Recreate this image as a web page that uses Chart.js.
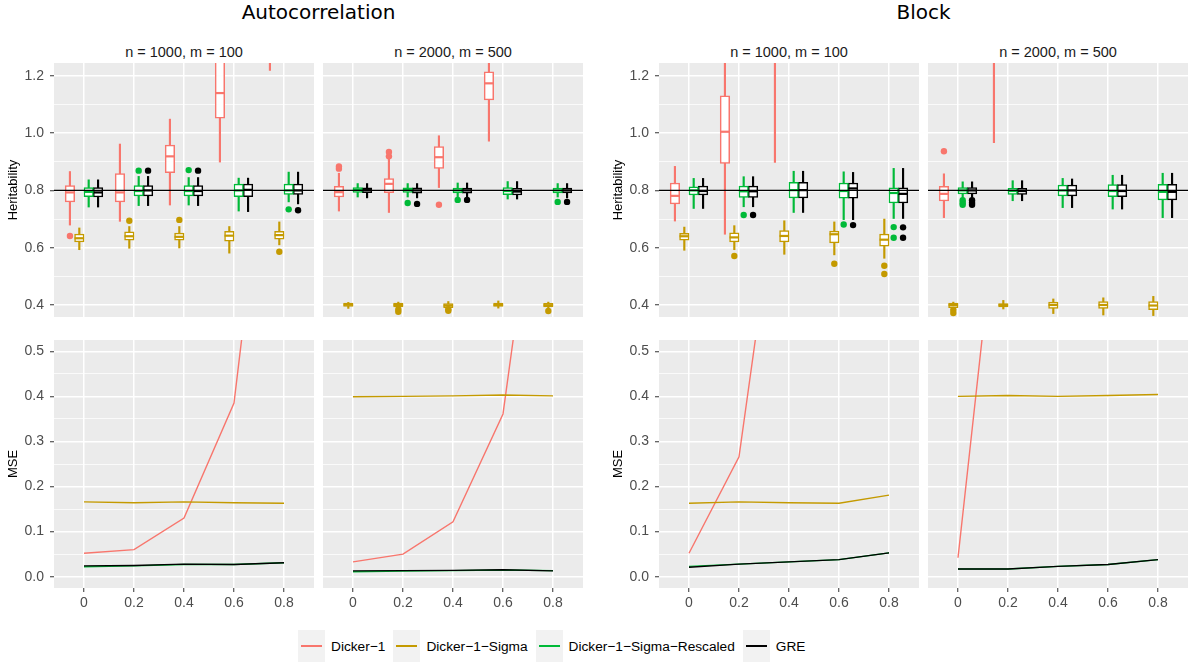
<!DOCTYPE html>
<html>
<head>
<meta charset="utf-8">
<script src="https://cdn.jsdelivr.net/npm/chart.js@4.4.1/dist/chart.umd.min.js"></script>
<style>
    body { margin: 0; width: 1188px; height: 664px; background: #fff; position: relative; overflow: hidden; font-family: "Liberation Sans", Arial, sans-serif; }
    canvas { position: absolute; }
    .main-title { position: absolute; top: 0; height: 24px; line-height: 24px; text-align: center; font-family: "DejaVu Sans", sans-serif; font-size: 20px; color: #000; }
    .strip { position: absolute; top: 44px; height: 16px; line-height: 16px; text-align: center; font-size: 14.5px; color: #1a1a1a; }
    #legend { position: absolute; left: 298px; top: 630px; height: 32px; display: flex; align-items: center; font-size: 13.7px; color: #000; }
    .key { width: 27px; height: 32px; background: #f2f2f2; position: relative; }
    .key span { position: absolute; left: 3px; width: 21px; top: 15px; height: 1.7px; }
    .lab { margin-left: 6px; margin-right: 8px; white-space: nowrap; }
</style>
</head>
<body>
<div class="main-title" style="left:54px;width:529px">Autocorrelation</div>
<div class="main-title" style="left:659px;width:529px">Block</div>
<div class="strip" style="left:54px;width:260px">n = 1000, m = 100</div>
<div class="strip" style="left:323px;width:260px">n = 2000, m = 500</div>
<div class="strip" style="left:659px;width:260px">n = 1000, m = 100</div>
<div class="strip" style="left:928px;width:260px">n = 2000, m = 500</div>

<canvas id="autoSmallTop" width="314" height="254" style="left:0;top:63px"></canvas>
<canvas id="autoLargeTop" width="260" height="254" style="left:323px;top:63px"></canvas>
<canvas id="blockSmallTop" width="314" height="254" style="left:605px;top:63px"></canvas>
<canvas id="blockLargeTop" width="260" height="254" style="left:928px;top:63px"></canvas>
<canvas id="autoSmallMse" width="314" height="274" style="left:0;top:340px"></canvas>
<canvas id="autoLargeMse" width="260" height="274" style="left:323px;top:340px"></canvas>
<canvas id="blockSmallMse" width="314" height="274" style="left:605px;top:340px"></canvas>
<canvas id="blockLargeMse" width="260" height="274" style="left:928px;top:340px"></canvas>

<div id="legend"></div>

<script>
let rhoValues = [0, 0.2, 0.4, 0.6, 0.8];
let methodNames = ["Dicker−1", "Dicker−1−Sigma", "Dicker−1−Sigma−Rescaled", "GRE"];
let methodColors = ["#F8766D", "#C49A00", "#00BA38", "#000000"];
let trueHeritability = 0.8;

let heritTicks = [0.4, 0.5, 0.6, 0.7, 0.8, 0.9, 1.0, 1.1, 1.2];
let mseTicks = [0, 0.05, 0.1, 0.15, 0.2, 0.25, 0.3, 0.35, 0.4, 0.45, 0.5];
let rhoTicks = [0, 0.2, 0.4, 0.6, 0.8];

// boxplot rows: [lower whisker, q1, median, q3, upper whisker], one row per rho
let boxAutoSmall = [
    [[0.679, 0.760, 0.793, 0.817, 0.866], [0.692, 0.760, 0.793, 0.859, 0.962], [0.749, 0.862, 0.919, 0.958, 1.049], [0.899, 1.052, 1.140, 1.300, 1.550], [1.219, 1.400, 1.500, 1.620, 1.900]],
    [[0.593, 0.620, 0.633, 0.648, 0.669], [0.598, 0.626, 0.640, 0.655, 0.674], [0.599, 0.626, 0.638, 0.651, 0.674], [0.581, 0.623, 0.642, 0.657, 0.674], [0.610, 0.630, 0.644, 0.657, 0.690]],
    [[0.742, 0.778, 0.795, 0.810, 0.837], [0.747, 0.781, 0.798, 0.817, 0.849], [0.749, 0.781, 0.798, 0.817, 0.845], [0.728, 0.778, 0.800, 0.822, 0.843], [0.760, 0.786, 0.800, 0.822, 0.864]],
    [[0.742, 0.777, 0.793, 0.810, 0.837], [0.747, 0.781, 0.800, 0.817, 0.849], [0.747, 0.781, 0.798, 0.817, 0.845], [0.726, 0.778, 0.802, 0.822, 0.843], [0.753, 0.786, 0.800, 0.822, 0.864]]
];
let outAutoSmall = [
    [[0, 0.641]],
    [[0.2, 0.694], [0.4, 0.697], [0.8, 0.586]],
    [[0.2, 0.869], [0.4, 0.871], [0.8, 0.734]],
    [[0.2, 0.869], [0.4, 0.869], [0.8, 0.731]]
];

let boxAutoLarge = [
    [[0.728, 0.777, 0.794, 0.814, 0.860], [0.723, 0.792, 0.823, 0.841, 0.909], [0.810, 0.877, 0.916, 0.953, 0.991], [0.972, 1.116, 1.174, 1.214, 1.350], [1.300, 1.450, 1.550, 1.650, 1.850]],
    [[0.388, 0.395, 0.401, 0.407, 0.409], [0.386, 0.393, 0.400, 0.407, 0.410], [0.385, 0.391, 0.398, 0.405, 0.412], [0.389, 0.395, 0.400, 0.407, 0.414], [0.386, 0.393, 0.399, 0.406, 0.410]],
    [[0.777, 0.793, 0.802, 0.810, 0.824], [0.777, 0.793, 0.802, 0.809, 0.824], [0.777, 0.791, 0.800, 0.808, 0.826], [0.770, 0.785, 0.798, 0.810, 0.831], [0.777, 0.791, 0.800, 0.808, 0.824]],
    [[0.774, 0.792, 0.801, 0.809, 0.824], [0.774, 0.790, 0.800, 0.809, 0.824], [0.774, 0.790, 0.800, 0.808, 0.826], [0.770, 0.784, 0.796, 0.807, 0.831], [0.774, 0.791, 0.800, 0.808, 0.824]]
];
let outAutoLarge = [
    [[0, 0.876], [0, 0.884], [0.2, 0.919], [0.2, 0.934], [0.4, 0.750]],
    [[0.2, 0.384], [0.2, 0.376], [0.4, 0.380], [0.4, 0.385], [0.8, 0.379]],
    [[0.2, 0.756], [0.4, 0.767], [0.8, 0.760]],
    [[0.2, 0.753], [0.4, 0.767], [0.8, 0.760]]
];

let boxBlockSmall = [
    [[0.693, 0.753, 0.781, 0.826, 0.884], [0.647, 0.894, 1.005, 1.130, 1.400], [0.898, 1.300, 1.450, 1.600, 1.900], [1.300, 1.500, 1.700, 1.900, 2.200], [1.400, 1.600, 1.800, 2.000, 2.400]],
    [[0.591, 0.626, 0.640, 0.650, 0.672], [0.593, 0.620, 0.636, 0.652, 0.677], [0.577, 0.620, 0.641, 0.660, 0.694], [0.575, 0.617, 0.647, 0.658, 0.690], [0.563, 0.605, 0.628, 0.648, 0.700]],
    [[0.737, 0.784, 0.800, 0.813, 0.842], [0.743, 0.776, 0.797, 0.815, 0.848], [0.723, 0.774, 0.801, 0.828, 0.867], [0.698, 0.773, 0.798, 0.826, 0.865], [0.702, 0.756, 0.791, 0.809, 0.877]],
    [[0.737, 0.784, 0.798, 0.815, 0.842], [0.743, 0.776, 0.797, 0.815, 0.848], [0.723, 0.774, 0.801, 0.828, 0.867], [0.698, 0.773, 0.807, 0.826, 0.863], [0.702, 0.756, 0.788, 0.809, 0.877]]
];
let outBlockSmall = [
    [],
    [[0.2, 0.571], [0.6, 0.544], [0.8, 0.537], [0.8, 0.508]],
    [[0.2, 0.714], [0.6, 0.681], [0.8, 0.672], [0.8, 0.635]],
    [[0.2, 0.714], [0.6, 0.679], [0.8, 0.671], [0.8, 0.635]]
];

let boxBlockLarge = [
    [[0.705, 0.763, 0.788, 0.814, 0.858], [0.967, 1.300, 1.450, 1.600, 1.900], [1.400, 1.600, 1.800, 2.000, 2.400], [1.500, 1.700, 1.900, 2.100, 2.500], [1.600, 1.800, 2.000, 2.200, 2.600]],
    [[0.388, 0.391, 0.400, 0.407, 0.410], [0.386, 0.393, 0.400, 0.405, 0.416], [0.370, 0.388, 0.400, 0.410, 0.421], [0.365, 0.388, 0.400, 0.412, 0.425], [0.363, 0.384, 0.398, 0.412, 0.430]],
    [[0.775, 0.788, 0.800, 0.810, 0.830], [0.764, 0.786, 0.798, 0.807, 0.834], [0.740, 0.781, 0.800, 0.819, 0.842], [0.735, 0.778, 0.798, 0.820, 0.853], [0.705, 0.767, 0.795, 0.821, 0.860]],
    [[0.775, 0.788, 0.800, 0.810, 0.830], [0.764, 0.786, 0.798, 0.807, 0.834], [0.740, 0.781, 0.800, 0.819, 0.840], [0.735, 0.778, 0.798, 0.820, 0.853], [0.705, 0.767, 0.795, 0.821, 0.860]]
];
let outBlockLarge = [
    [[0, 0.937]],
    [[0, 0.383], [0, 0.372]],
    [[0, 0.766], [0, 0.757], [0, 0.750]],
    [[0, 0.766], [0, 0.757], [0, 0.750]]
];

// MSE by rho, one row per method
let mseAutoSmall = [
    [0.052, 0.060, 0.130, 0.385, 1.310],
    [0.166, 0.164, 0.166, 0.164, 0.163],
    [0.022, 0.024, 0.027, 0.027, 0.031],
    [0.024, 0.025, 0.028, 0.027, 0.031]
];
let mseAutoLarge = [
    [0.033, 0.050, 0.122, 0.361, 1.170],
    [0.399, 0.400, 0.401, 0.403, 0.401],
    [0.011, 0.0125, 0.0135, 0.015, 0.0135],
    [0.013, 0.0135, 0.014, 0.0155, 0.013]
];
let mseBlockSmall = [
    [0.052, 0.266, 1.060, 1.600, 2.100],
    [0.163, 0.166, 0.164, 0.163, 0.181],
    [0.023, 0.028, 0.033, 0.038, 0.053],
    [0.021, 0.028, 0.033, 0.038, 0.053]
];
let mseBlockLarge = [
    [0.042, 1.050, 1.700, 2.200, 2.600],
    [0.400, 0.402, 0.400, 0.402, 0.404],
    [0.017, 0.017, 0.023, 0.027, 0.038],
    [0.017, 0.017, 0.023, 0.027, 0.038]
];

// ggplot-like look
let dodgeWidth = 0.15;
let tickFont = { family: "'Liberation Sans', Arial, sans-serif", size: 14 };

function dodgeOffset(i) {
    return (i - 1.5) * dodgeWidth / 4;
}

function isMultiple(v, step) {
    let r = v / step;
    return Math.abs(r - Math.round(r)) < 1e-6;
}

// keep the panel the full size of the canvas minus the axis strip
function noPadding(s) {
    s.paddingTop = 0;
    s.paddingBottom = 0;
    s.paddingLeft = 0;
    s.paddingRight = 0;
}

let panelBackground = {
    id: "panelBackground",
    beforeDraw(chart) {
        let a = chart.chartArea;
        let ctx = chart.ctx;
        ctx.save();
        ctx.fillStyle = "#EBEBEB";
        ctx.fillRect(a.left, a.top, a.right - a.left, a.bottom - a.top);
        ctx.restore();
    }
};

function xScale(showLabels) {
    return {
        type: "linear",
        min: -0.12,
        max: 0.92,
        offset: false,
        afterBuildTicks: s => { s.ticks = rhoTicks.map(v => ({ value: v })); },
        afterFit: s => { s.height = showLabels ? 26 : 0; noPadding(s); },
        border: { display: false },
        grid: {
            offset: false,
            color: "#FFFFFF",
            lineWidth: 1.5,
            drawTicks: showLabels,
            tickLength: 4,
            tickColor: "#333333",
            tickWidth: 1
        },
        ticks: {
            display: showLabels,
            autoSkip: false,
            maxRotation: 0,
            padding: 3,
            color: "#4D4D4D",
            font: tickFont,
            callback: v => String(Math.round(v * 10) / 10)
        }
    };
}

function yScale(tickValues, min, max, majorStep, showAxis, title) {
    return {
        type: "linear",
        min: min,
        max: max,
        afterBuildTicks: s => { s.ticks = tickValues.map(v => ({ value: v })); },
        afterFit: s => { s.width = showAxis ? 54 : 0; noPadding(s); },
        border: { display: false },
        grid: {
            offset: false,
            color: "#FFFFFF",
            lineWidth: c => isMultiple(c.tick.value, majorStep) ? 1.5 : 0.75,
            drawTicks: showAxis,
            tickLength: 4,
            tickWidth: 1,
            tickColor: c => isMultiple(c.tick.value, majorStep) ? "#333333" : "rgba(0,0,0,0)"
        },
        ticks: {
            display: showAxis,
            autoSkip: false,
            padding: 6,
            color: "#4D4D4D",
            font: tickFont,
            callback: v => isMultiple(v, majorStep) ? v.toFixed(1) : ""
        },
        title: {
            display: showAxis,
            text: title,
            color: "#000000",
            font: { family: "'Liberation Sans', Arial, sans-serif", size: 13 },
            padding: { top: 6, bottom: 0 }
        }
    };
}

function boxDatasets(boxes, outliers) {
    let sets = [];
    boxes.forEach((rows, i) => {
        let color = methodColors[i];
        let dx = dodgeOffset(i);
        sets.push({
            type: "bar", order: 40, grouped: false, clip: 0,
            data: rows.map((r, k) => ({ x: rhoValues[k] + dx, y: [r[0], r[4]] })),
            backgroundColor: color, borderWidth: 0, barThickness: 1.5
        });
        sets.push({
            type: "bar", order: 30, grouped: false, clip: 0,
            data: rows.map((r, k) => ({ x: rhoValues[k] + dx, y: [r[1], r[3]] })),
            backgroundColor: "#FFFFFF", borderColor: color, borderWidth: 1.5,
            borderSkipped: false, barThickness: 9.5
        });
        sets.push({
            type: "scatter", order: 20, clip: 0,
            data: rows.map((r, k) => ({ x: rhoValues[k] + dx, y: r[2] })),
            pointStyle: "line", pointRadius: 4.75, pointBorderColor: color, pointBorderWidth: 2.2
        });
        sets.push({
            type: "scatter", order: 10, clip: 0,
            data: outliers[i].map(p => ({ x: p[0] + dx, y: p[1] })),
            pointRadius: 3.2, pointBackgroundColor: color, pointBorderWidth: 0
        });
    });
    sets.push({
        type: "line", order: 0, clip: 0,
        data: [{ x: -1, y: trueHeritability }, { x: 2, y: trueHeritability }],
        borderColor: "#000000", borderWidth: 1.2, pointRadius: 0
    });
    return sets;
}

function mseDatasets(series) {
    return series.map((vals, i) => ({
        type: "line",
        order: 3 - i,
        clip: 0,
        data: vals.map((v, k) => ({ x: rhoValues[k], y: v })),
        borderColor: methodColors[i],
        borderWidth: 1.4,
        pointRadius: 0,
        tension: 0
    }));
}

function makeChart(id, datasets, xOpts, yOpts) {
    return new Chart(document.getElementById(id).getContext("2d"), {
        type: "bar",
        data: { datasets: datasets },
        plugins: [panelBackground],
        options: {
            responsive: false,
            animation: false,
            devicePixelRatio: 1,
            events: [],
            layout: { padding: 0, autoPadding: false },
            plugins: { legend: { display: false }, tooltip: { enabled: false } },
            scales: { x: xOpts, y: yOpts }
        }
    });
}

makeChart("autoSmallTop", boxDatasets(boxAutoSmall, outAutoSmall), xScale(false), yScale(heritTicks, 0.358, 1.245, 0.2, true, "Heritability"));
makeChart("autoLargeTop", boxDatasets(boxAutoLarge, outAutoLarge), xScale(false), yScale(heritTicks, 0.358, 1.245, 0.2, false, ""));
makeChart("blockSmallTop", boxDatasets(boxBlockSmall, outBlockSmall), xScale(false), yScale(heritTicks, 0.358, 1.245, 0.2, true, "Heritability"));
makeChart("blockLargeTop", boxDatasets(boxBlockLarge, outBlockLarge), xScale(false), yScale(heritTicks, 0.358, 1.245, 0.2, false, ""));

makeChart("autoSmallMse", mseDatasets(mseAutoSmall), xScale(true), yScale(mseTicks, -0.025, 0.525, 0.1, true, "MSE"));
makeChart("autoLargeMse", mseDatasets(mseAutoLarge), xScale(true), yScale(mseTicks, -0.025, 0.525, 0.1, false, ""));
makeChart("blockSmallMse", mseDatasets(mseBlockSmall), xScale(true), yScale(mseTicks, -0.025, 0.525, 0.1, true, "MSE"));
makeChart("blockLargeMse", mseDatasets(mseBlockLarge), xScale(true), yScale(mseTicks, -0.025, 0.525, 0.1, false, ""));

// legend
let legend = document.getElementById("legend");
methodNames.forEach((name, i) => {
    let key = document.createElement("div");
    key.className = "key";
    let line = document.createElement("span");
    line.style.background = methodColors[i];
    key.appendChild(line);
    let lab = document.createElement("div");
    lab.className = "lab";
    lab.textContent = name;
    legend.appendChild(key);
    legend.appendChild(lab);
});
</script>
</body>
</html>
